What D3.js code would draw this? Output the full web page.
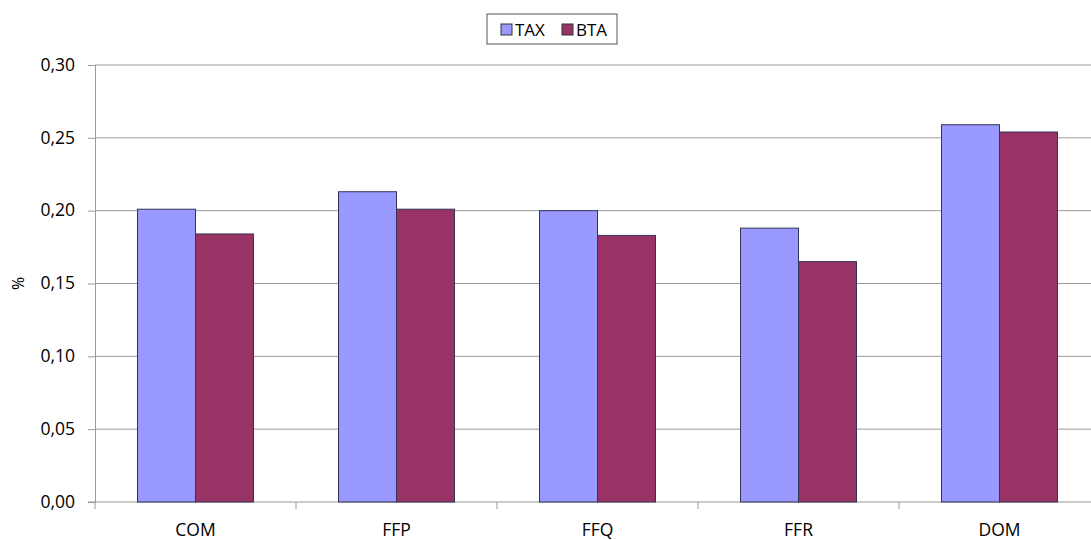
<!DOCTYPE html>
<html>
<head>
<meta charset="utf-8">
<script src="https://cdn.jsdelivr.net/npm/d3@7"></script>
<style>
  body { margin: 0; background: #fff; }
  text { font-family: "Open Sans", "DejaVu Sans", sans-serif; fill: #000; }
</style>
</head>
<body>
<div id="chart"></div>
<script>
const categories = ['COM', 'FFP', 'FFQ', 'FFR', 'DOM'];
const seriesNames = ['TAX', 'BTA'];
const taxValues = [0.201, 0.213, 0.200, 0.188, 0.259];
const btaValues = [0.184, 0.201, 0.183, 0.165, 0.254];
const yTicks = [0, 0.05, 0.10, 0.15, 0.20, 0.25, 0.30];
const colors = ['#9999ff', '#993366'];

const width = 1091, height = 540;
const margin = { top: 65, right: -9, bottom: 38, left: 95 };

const svg = d3.select('#chart').append('svg')
    .attr('width', width)
    .attr('height', height);

const x0 = d3.scaleBand()
    .domain(categories)
    .range([margin.left, width - margin.right])
    .paddingInner(0.423)
    .paddingOuter(0.2115);

const x1 = d3.scaleBand()
    .domain(seriesNames)
    .range([0, x0.bandwidth()]);

const y = d3.scaleLinear()
    .domain([0, 0.30])
    .range([height - margin.bottom, margin.top]);

const fmt = v => d3.format('.2f')(v).replace('.', ',');

// gridlines + y axis
const yAxis = svg.append('g')
    .attr('transform', `translate(${margin.left},0)`)
    .call(d3.axisLeft(y).tickValues(yTicks).tickFormat(fmt).tickSize(7).tickPadding(13))
yAxis.select('.domain').attr('stroke', '#999')
yAxis.selectAll('.tick line').attr('stroke', '#999')
yAxis.selectAll('.tick text').style('font-size', '17.5px').attr('dy', '0.3em')

svg.append('g')
    .selectAll('line')
    .data(yTicks.filter(d => d > 0))
    .join('line')
    .attr('x1', margin.left)
    .attr('x2', width)
    .attr('y1', d => y(d))
    .attr('y2', d => y(d))
    .attr('stroke', '#999')

// x axis
const step = x0.step();
const xAxis = svg.append('g')
    .attr('transform', `translate(0,${y(0)})`)
xAxis.append('line')
    .attr('x1', margin.left - 7)
    .attr('x2', width)
    .attr('stroke', '#999')
xAxis.selectAll('.sep')
    .data(d3.range(categories.length + 1))
    .join('line')
    .attr('class', 'sep')
    .attr('x1', i => margin.left + i * step)
    .attr('x2', i => margin.left + i * step)
    .attr('y1', 0)
    .attr('y2', 7)
    .attr('stroke', '#999')
xAxis.selectAll('.lbl')
    .data(categories)
    .join('text')
    .attr('class', 'lbl')
    .attr('x', d => x0(d) + x0.bandwidth() / 2)
    .attr('y', 34)
    .attr('text-anchor', 'middle')
    .style('font-size', '17.5px')
    .text(d => d)

// bars
const rows = categories.map((c, i) => ({ cat: c, vals: [taxValues[i], btaValues[i]] }));
svg.append('g')
    .selectAll('g')
    .data(rows)
    .join('g')
    .attr('transform', d => `translate(${x0(d.cat)},0)`)
    .selectAll('rect')
    .data(d => d.vals.map((v, j) => ({ key: seriesNames[j], v: v, j: j })))
    .join('rect')
    .attr('x', d => x1(d.key))
    .attr('y', d => y(d.v))
    .attr('width', x1.bandwidth())
    .attr('height', d => y(0) - y(d.v))
    .attr('fill', d => colors[d.j])
    .attr('stroke', '#333355')
    .attr('stroke-width', 1)

// y title
svg.append('text')
    .attr('transform', `translate(24,${(margin.top + y(0)) / 2}) rotate(-90)`)
    .attr('text-anchor', 'middle')
    .style('font-size', '16px')
    .text('%')

// legend
const legend = svg.append('g').attr('transform', 'translate(487,14)')
legend.append('rect')
    .attr('width', 130).attr('height', 30)
    .attr('fill', '#fff').attr('stroke', '#555')
const items = legend.selectAll('g')
    .data(seriesNames)
    .join('g')
    .attr('transform', (d, i) => `translate(${14 + i * 61},0)`)
items.append('rect')
    .attr('y', 10).attr('width', 11).attr('height', 11)
    .attr('fill', (d, i) => colors[i]).attr('stroke', '#333')
items.append('text')
    .attr('x', 14).attr('y', 22)
    .style('font-size', '17px')
    .text(d => d)
</script>
</body>
</html>
